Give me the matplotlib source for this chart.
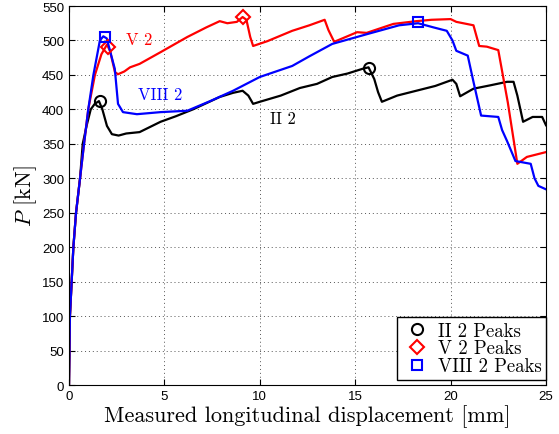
import matplotlib
matplotlib.use("Agg")
import matplotlib.pyplot as plt

plt.rcParams['mathtext.fontset'] = 'cm'

# Load-displacement curves, displacement in mm, load in kN
x_ii = [0, 0.05, 0.14, 0.23, 0.37, 0.58, 0.72, 0.93, 1.14, 1.35, 1.57, 1.75, 1.99, 2.25,
        2.6, 3.0, 3.7, 4.8, 5.6, 6.5, 7.9, 8.6, 9.1, 9.4, 9.65, 10.0, 11.1, 12.1, 13.0,
        13.8, 14.6, 15.4, 15.7, 16.0, 16.2, 16.4, 17.2, 18.2, 19.2, 20.1, 20.3, 20.5,
        21.2, 22.1, 22.96, 23.3, 23.5, 23.8, 24.3, 24.8, 25.0]
p_ii = [0, 100, 150, 200, 250, 300, 350, 377, 400, 408, 412, 400, 376, 364,
        362, 365, 367, 382, 390, 400, 418, 424, 427, 420, 408, 411, 420, 431, 437,
        447, 452, 459, 461, 444, 425, 411, 420, 427, 434, 443, 437, 419,
        430, 435, 440, 440, 420, 382, 389, 389, 377]

x_v = [0, 0.05, 0.14, 0.23, 0.37, 0.58, 0.79, 1.01, 1.36, 1.7, 1.99, 2.15, 2.41, 2.57,
       2.9, 3.2, 3.7, 4.8, 6.2, 7.2, 7.9, 8.3, 8.8, 9.1, 9.3, 9.5, 9.65, 10.4, 11.7,
       12.6, 13.4, 13.6, 13.9, 15.1, 15.6, 17.0, 18.2, 19.0, 20.0, 20.3, 21.2, 21.5,
       21.9, 22.5, 23.0, 23.5, 24.0, 25.0]
p_v = [0, 100, 150, 200, 250, 300, 350, 400, 450, 480, 494, 485, 454, 451,
       455, 461, 466, 483, 505, 519, 528, 525, 527, 534, 530, 505, 492, 499, 514,
       522, 530, 515, 498, 512, 511, 524, 528, 530, 531, 527, 522, 492,
       491, 486, 410, 321, 331, 338]

x_viii = [0, 0.05, 0.14, 0.23, 0.37, 0.58, 0.79, 1.01, 1.28, 1.62, 1.8, 1.98, 2.15,
          2.4, 2.57, 2.83, 3.56, 4.8, 6.2, 7.4, 8.6, 10.0, 11.7, 12.6, 13.8, 15.6, 17.3,
          18.3, 19.1, 19.8, 20.1, 20.3, 20.9, 21.2, 21.6, 22.5, 22.7, 22.96, 23.4, 24.2,
          24.4, 24.6, 25.0]
p_viii = [0, 100, 150, 200, 250, 300, 350, 400, 450, 500, 506, 503, 485,
          459, 408, 396, 393, 396, 398, 412, 427, 447, 463, 477, 495, 509, 522,
          525, 519, 514, 500, 485, 478, 440, 391, 389, 370, 354, 325, 321,
          300, 289, 284]

# Detected peaks
peak_x_ii = [1.6, 15.7]
peak_p_ii = [412, 460]
peak_x_v = [2.04, 9.1]
peak_p_v = [490, 534]
peak_x_viii = [1.89, 18.3]
peak_p_viii = [505, 527]

fig = plt.figure(figsize=(5.59, 4.35), dpi=100)
ax = fig.add_axes([0.1234, 0.1126, 0.8533, 0.8713])

ax.plot(x_ii, p_ii, color='black', lw=1.6)
ax.plot(x_v, p_v, color='red', lw=1.6)
ax.plot(x_viii, p_viii, color='blue', lw=1.6)

ax.plot(peak_x_ii, peak_p_ii, 'o', mfc='none', mec='black', ms=8, mew=1.5,
        label='II 2 Peaks')
ax.plot(peak_x_v, peak_p_v, 'D', mfc='none', mec='red', ms=7, mew=1.5,
        label='V 2 Peaks')
ax.plot(peak_x_viii, peak_p_viii, 's', mfc='none', mec='blue', ms=7, mew=1.5,
        label='VIII 2 Peaks')

ax.text(3.7, 502, 'V 2', color='red', fontsize=12, family='cmr10',
        ha='center', va='center')
ax.text(4.8, 422, 'VIII 2', color='blue', fontsize=12, family='cmr10',
        ha='center', va='center')
ax.text(11.2, 387, 'II 2', color='black', fontsize=12, family='cmr10',
        ha='center', va='center')

ax.set_xlim(0, 25)
ax.set_ylim(0, 550)
ax.set_xticks(range(0, 26, 5))
ax.set_yticks(range(0, 551, 50))
ax.grid(True, linestyle=(0, (1, 3)), color='#555555', lw=0.7)
ax.tick_params(direction='in', top=True, right=True, labelsize=9.5, length=4)
for lbl in ax.get_xticklabels() + ax.get_yticklabels():
    lbl.set_family('Liberation Sans')

ax.set_xlabel('Measured longitudinal displacement [mm]', family='cmr10', fontsize=16,
              labelpad=2)
ax.set_ylabel('$P$ [kN]', family='cmr10', fontsize=16, labelpad=2)

leg = ax.legend(loc='lower right', bbox_to_anchor=(1.0, 0.013),
                prop={'family': 'cmr10', 'size': 13.5},
                fancybox=False, edgecolor='black', framealpha=1,
                labelspacing=0.0, handletextpad=0.3, borderpad=0.25,
                borderaxespad=0.0, handlelength=1.6)
leg.get_frame().set_linewidth(1.0)

fig.savefig('out.png', dpi=100)
